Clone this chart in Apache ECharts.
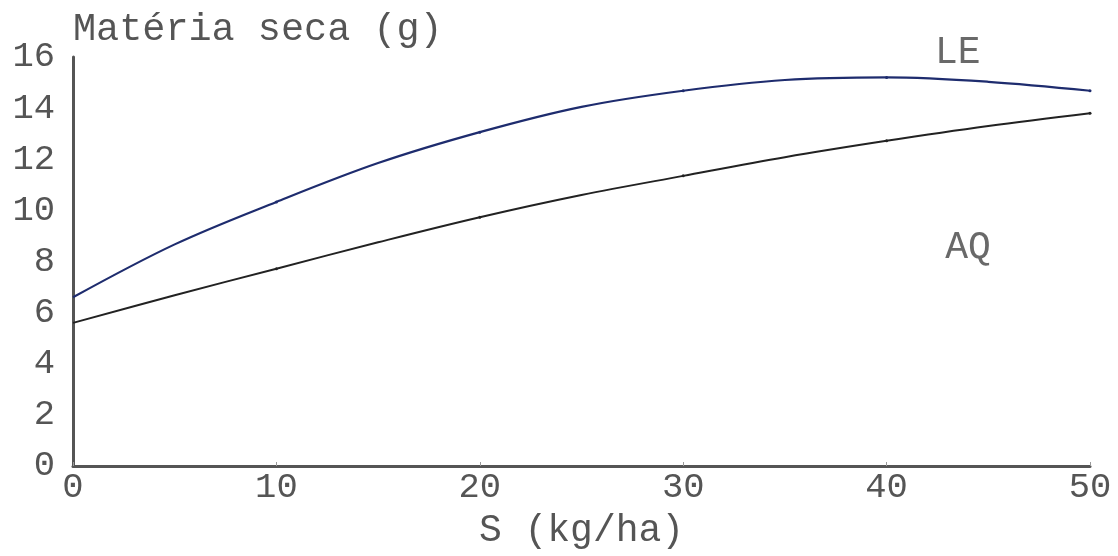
<!DOCTYPE html>
<html>
<head>
<meta charset="utf-8">
<script src="https://cdn.jsdelivr.net/npm/echarts@6/dist/echarts.min.js"></script>
<style>html,body{margin:0;padding:0;background:#fff}#c{width:1118px;height:556px}</style>
</head>
<body>
<div id="c"></div>
<script>
const xValues = [0, 5, 10, 15, 20, 25, 30, 35, 40, 45, 50];
const seriesLE = [6.6, 8.67, 10.33, 11.85, 13.06, 14.05, 14.68, 15.1, 15.2, 15.03, 14.68];
const seriesAQ = [5.6, 6.68, 7.72, 8.75, 9.73, 10.6, 11.35, 12.08, 12.72, 13.3, 13.8];
const curveLabels = [['LE', 43.5, 16.15], ['AQ', 44.0, 8.55]];
const yTicks = [0, 2, 4, 6, 8, 10, 12, 14, 16];
const xTicks = [0, 10, 20, 30, 40, 50];
const yTitle = 'Matéria seca (g)';
const xTitle = 'S (kg/ha)';

const font = 'Liberation Mono';
const textColor = '#555';
const pair = arr => xValues.map((x, i) => [x, arr[i]]);
const dotSize = v => (v[0] % 10 === 0 && v[0] > 0 ? 3 : 0);

const chart = echarts.init(document.getElementById('c'), null, {renderer: 'canvas'});
chart.setOption({
  animation: false,
  backgroundColor: '#fff',
  grid: {left: 73, right: 28, top: 57, bottom: 90, containLabel: false, outerBoundsMode: 'none'},
  xAxis: {
    type: 'value', min: 0, max: 50, interval: 10,
    name: xTitle, nameLocation: 'middle', nameGap: 46,
    nameTextStyle: {fontFamily: font, fontSize: 38, color: textColor},
    axisLine: {show: true, onZero: false, lineStyle: {color: '#555', width: 3}},
    axisTick: {show: true, inside: true, length: 4, lineStyle: {color: '#999', width: 1}},
    splitLine: {show: false},
    axisLabel: {fontFamily: font, fontSize: 35.5, color: textColor, margin: 4,
      formatter: v => xTicks.includes(v) ? String(v) : ''}
  },
  yAxis: {
    type: 'value', min: 0, max: 16, interval: 2,
    name: yTitle, nameLocation: 'end', nameGap: 8,
    nameTextStyle: {fontFamily: font, fontSize: 38.5, color: textColor, align: 'left', verticalAlign: 'bottom'},
    axisLine: {show: true, onZero: false, lineStyle: {color: '#555', width: 3}},
    axisTick: {show: false},
    splitLine: {show: false},
    axisLabel: {fontFamily: font, fontSize: 35.5, color: textColor, margin: 18,
      formatter: v => yTicks.includes(v) ? String(v) : ''}
  },
  series: [
    {
      name: 'LE', type: 'line', data: pair(seriesLE), smooth: 0.35,
      showSymbol: true, symbol: 'circle', symbolSize: dotSize,
      itemStyle: {color: '#1e2c6e'},
      lineStyle: {color: '#1e2c6e', width: 2.2}
    },
    {
      name: 'AQ', type: 'line', data: pair(seriesAQ), smooth: 0.35,
      showSymbol: true, symbol: 'circle', symbolSize: dotSize,
      itemStyle: {color: '#222'},
      lineStyle: {color: '#222', width: 2}
    },
    {
      name: 'labels', type: 'scatter', symbolSize: 0, clip: false,
      data: curveLabels.map(d => ({value: [d[1], d[2]], name: d[0]})),
      label: {show: true, position: 'inside', formatter: p => p.name,
        fontFamily: font, fontSize: 38, color: '#444'},
      silent: true
    }
  ]
});
</script>
</body>
</html>
